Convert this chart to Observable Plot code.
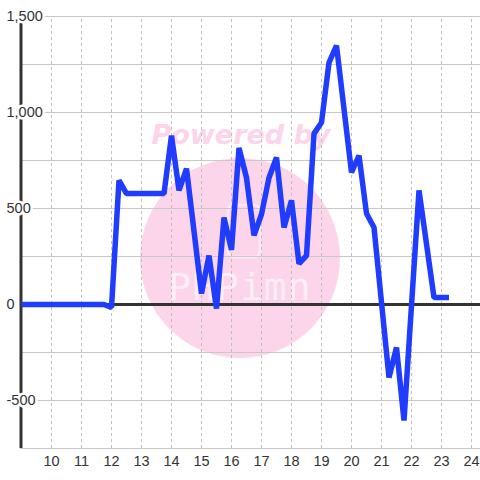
<!DOCTYPE html>
<html><head><meta charset="utf-8">
<script src="https://cdn.jsdelivr.net/npm/d3@7"></script>
<script src="https://cdn.jsdelivr.net/npm/@observablehq/plot@0.6"></script>
<style>
html,body{margin:0;padding:0;background:#fff;}
#wrap{position:relative;width:480px;height:480px;overflow:hidden;}
#wm{position:absolute;left:0;top:0;}
#chart{position:absolute;left:0;top:0;}
</style></head><body>
<div id="wrap">
<svg id="wm" width="480" height="480">
  <circle cx="240" cy="258" r="100" fill="#fcd5ea"/>
  <text x="241" y="144" text-anchor="middle" font-family="DejaVu Sans" font-weight="bold" font-style="italic" font-size="27" fill="#fcd5ea">Powered by</text>
  <rect x="228" y="205" width="32" height="52" rx="6" fill="none" stroke="#fdeaf4" stroke-width="2.5"/>
  <text x="240" y="300" text-anchor="middle" font-family="DejaVu Sans Mono" font-size="38" fill="#fdeef6" letter-spacing="1">PHPimn</text>
</svg>
<div id="chart"></div>
</div>
<script>
const hours  = [9, 11.75, 12, 12.25, 12.5, 13.75, 14, 14.25, 14.5, 15, 15.25, 15.5, 15.75, 16, 16.25, 16.5, 16.75, 17, 17.25, 17.5, 17.75, 18, 18.25, 18.5, 18.75, 19, 19.25, 19.5, 20, 20.25, 20.5, 20.75, 21.25, 21.5, 21.75, 22.25, 22.75, 23.25];
const values = [0, 0, -15, 646, 578, 578, 880, 594, 708, 57, 255, -21, 453, 285, 815, 660, 360, 470, 660, 766, 401, 542, 213, 255, 890, 948, 1260, 1349, 688, 776, 474, 401, -380, -224, -604, 594, 36, 36];
const yGrid = [-750, -500, -250, 0, 250, 500, 750, 1000, 1250, 1500];
const yLabels = [-500, 0, 500, 1000, 1500];
const xTicks = [10, 11, 12, 13, 14, 15, 16, 17, 18, 19, 20, 21, 22, 23, 24];

const data = hours.map((h, i) => ({h, v: values[i]}));
const fmt = d => d3.format(",")(d).replace("\u2212", "-");
const font = "'Liberation Sans', Arial, sans-serif";

const chart = Plot.plot({
  width: 480,
  height: 480,
  marginLeft: 21,
  marginRight: 0,
  marginTop: 16,
  marginBottom: 32,
  style: {background: "transparent", fontFamily: font},
  x: {domain: [9, 24.3], axis: null},
  y: {domain: [-750, 1500], axis: null},
  marks: [
    Plot.ruleY(yGrid, {stroke: "#c8c8c8", strokeWidth: 1, x1: 8.967, x2: 24.3}),
    Plot.ruleX(xTicks, {stroke: "#c0c0c0", strokeWidth: 1, strokeDasharray: "3,3", y1: -750, y2: 1500}),
    Plot.ruleY([0], {stroke: "#333", strokeWidth: 3, x1: 8.967, x2: 24.3}),
    Plot.ruleX([8.983], {stroke: "#333", strokeWidth: 3, y1: -750, y2: 1500}),
    Plot.line(data, {x: "h", y: "v", stroke: "#1f3cff", strokeWidth: 5.5, strokeLinejoin: "miter", strokeLinecap: "butt"}),
    Plot.text(yLabels, {x: () => 9, y: d => d, text: d => fmt(d), textAnchor: "start", dx: -15, fontSize: 14.5, fill: "#333", stroke: "white", strokeWidth: 5}),
    Plot.text(xTicks, {x: d => d, y: () => -750, dy: 13, text: d => String(d), fontSize: 14.5, fill: "#333"})
  ]
});
document.getElementById("chart").appendChild(chart);
</script>
</body></html>
